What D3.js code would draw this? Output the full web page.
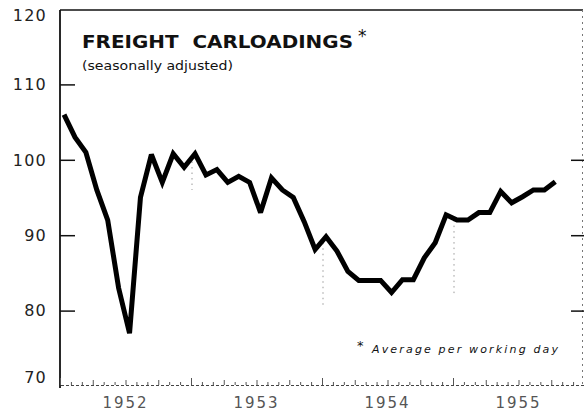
<!DOCTYPE html>
<html><head><meta charset="utf-8">
<script src="https://cdn.jsdelivr.net/npm/d3@7"></script>
<style>
html,body{margin:0;padding:0;background:#fff;}
svg{display:block;}
</style></head>
<body>
<svg id="chart" width="584" height="416"></svg>
<script>
// ---- data ----
const years = ["1952", "1953", "1954", "1955"];
// monthly, Jan 1952 .. Oct 1955
const monthIndex = d3.range(46);
const carloadings = [106, 103, 101, 96, 92, 83, 77, 95, 100.7, 97, 100.8, 99,
  100.8, 98, 98.7, 97, 97.8, 97, 93, 97.6, 96, 95, 91.8, 88.1,
  89.8, 87.9, 85.2, 84, 84, 84, 82.4, 84.1, 84.1, 87, 89, 92.7,
  92, 92, 93, 93, 95.8, 94.3, 95.1, 96, 96, 97.1];
const yTicks = [70, 80, 90, 100, 110, 120];
const rightTicks = [80, 90, 100];

const svg = d3.select("#chart");
const mLeft = 60, mRight = 584, mTop = 9, mBottom = 386;

const x = d3.scaleLinear().domain([0, 48]).range([mLeft, mRight]);
const y = d3.scaleLinear().domain([70, 120]).range([mBottom, mTop]);
const pos = i => x(i + 0.37);

const font = "'DejaVu Sans', sans-serif";

// frame: top line
svg.append("line").attr("x1", mLeft).attr("x2", mRight - 1).attr("y1", 10).attr("y2", 10)
  .attr("stroke", "#111").attr("stroke-width", 1.4);
// right line (faint dotted)
svg.append("line").attr("x1", mRight - 1.5).attr("x2", mRight - 1.5).attr("y1", 10).attr("y2", mBottom)
  .attr("stroke", "#777").attr("stroke-width", 1).attr("stroke-dasharray", "2,4");

// left axis
const yAxis = d3.axisRight(y).tickValues(yTicks.filter(v => v > 70 && v < 120)).tickSize(15).tickFormat("");
const gy = svg.append("g").attr("transform", `translate(${mLeft},0)`).call(yAxis);
gy.select(".domain").remove();
gy.selectAll(".tick line").attr("stroke", "#111").attr("stroke-width", 1.5);
svg.append("line").attr("x1", mLeft).attr("x2", mLeft).attr("y1", 10).attr("y2", mBottom + 2)
  .attr("stroke", "#111").attr("stroke-width", 1.8);

// y labels
svg.append("g").selectAll("text").data(yTicks).join("text")
  .attr("x", 47)
  .attr("y", d => y(d) + (d === 120 ? 6 : d === 70 ? -9 : 0))
  .attr("dy", "0.36em")
  .attr("text-anchor", "end")
  .attr("font-family", font).attr("font-size", 16).attr("letter-spacing", 1.2)
  .attr("fill", "#222")
  .text(d => d);

// right ticks
const yAxisR = d3.axisLeft(y).tickValues(rightTicks).tickSize(13).tickFormat("");
const gyr = svg.append("g").attr("transform", `translate(${mRight},0)`).call(yAxisR);
gyr.select(".domain").remove();
gyr.selectAll(".tick line").attr("stroke", "#111").attr("stroke-width", 1.5);

// bottom axis (dotted with monthly ticks)
const xAxis = d3.axisBottom(x).tickValues(d3.range(0, 49)).tickSize(-4).tickFormat("");
const gx = svg.append("g").attr("transform", `translate(0,${mBottom - 1})`).call(xAxis);
gx.select(".domain").attr("stroke", "#444").attr("stroke-width", 1).attr("stroke-dasharray", "3,2");
gx.selectAll(".tick line").attr("stroke", "#555").attr("stroke-width", 1)
  .attr("y2", d => d % 12 === 0 ? -7 : d % 3 === 0 ? -5 : -3);

// year labels
svg.append("g").selectAll("text").data(years).join("text")
  .attr("x", (d, i) => x(i * 12 + 6))
  .attr("y", 408)
  .attr("text-anchor", "middle")
  .attr("font-family", font).attr("font-size", 15).attr("letter-spacing", 2)
  .attr("fill", "#555")
  .text(d => d);

// faint year-boundary dotted lines
const gridSpans = [[12, 100.5, 96], [24, 89, 80.5], [36, 92, 82]];
svg.append("g").selectAll("line").data(gridSpans).join("line")
  .attr("x1", d => x(d[0]) + 1).attr("x2", d => x(d[0]) + 1)
  .attr("y1", d => y(d[1])).attr("y2", d => y(d[2]))
  .attr("stroke", "#999").attr("stroke-width", 1).attr("stroke-dasharray", "1.5,4");

// series line
const line = d3.line().x((d, i) => pos(monthIndex[i])).y(d => y(d));
svg.append("path").datum(carloadings)
  .attr("d", line)
  .attr("fill", "none").attr("stroke", "#000").attr("stroke-width", 5)
  .attr("stroke-linejoin", "miter").attr("stroke-miterlimit", 3);

// title
svg.append("text").attr("x", 82).attr("y", 48)
  .attr("font-family", font).attr("font-weight", "bold").attr("font-size", 17)
  .attr("textLength", 271).attr("lengthAdjust", "spacingAndGlyphs")
  .attr("fill", "#111").style("white-space", "pre")
  .text("FREIGHT  CARLOADINGS");
svg.append("text").attr("x", 358).attr("y", 42)
  .attr("font-family", font).attr("font-size", 17).attr("fill", "#111").text("*");
svg.append("text").attr("x", 82).attr("y", 70)
  .attr("font-family", font).attr("font-size", 12)
  .attr("textLength", 151).attr("lengthAdjust", "spacingAndGlyphs")
  .attr("fill", "#111")
  .text("(seasonally adjusted)");

// footnote
svg.append("text").attr("x", 357).attr("y", 350)
  .attr("font-family", font).attr("font-size", 13).attr("fill", "#111").text("*");
svg.append("text").attr("x", 372).attr("y", 353)
  .attr("font-family", font).attr("font-style", "italic").attr("font-size", 11)
  .attr("textLength", 186).attr("lengthAdjust", "spacing")
  .attr("fill", "#111")
  .text("Average per working day");
</script>
</body></html>
